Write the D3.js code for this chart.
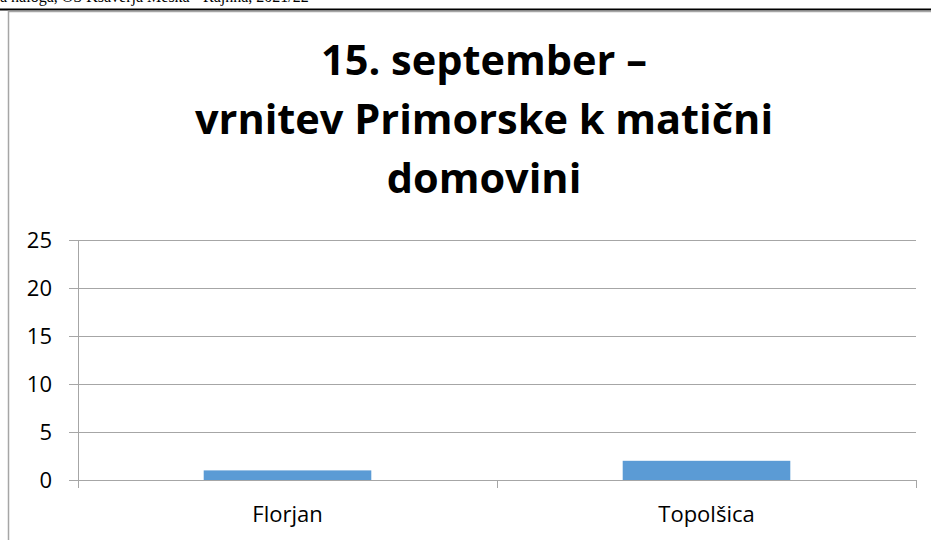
<!DOCTYPE html>
<html>
<head>
<meta charset="utf-8">
<script src="https://cdn.jsdelivr.net/npm/d3@7"></script>
<style>
  body { margin: 0; background: #fff; }
  svg { display: block; }
</style>
</head>
<body>
<div id="chart"></div>
<script>
// podatki grafa
var kategorije = ["Florjan", "Topolšica"];
var vrednosti = [1, 2];
var yTicks = [0, 5, 10, 15, 20, 25];
var naslov = ["15. september –", "vrnitev Primorske k matični", "domovini"];
var glava = "a naloga, OŠ Ksaverja Meška - Rajhna, 2021/22";

const W = 931, H = 540;
const margin = {top: 240, right: 15, bottom: 60, left: 78},
    width = W - margin.left - margin.right,
    height = H - margin.top - margin.bottom;

const svg = d3.select("#chart")
  .append("svg")
    .attr("width", W)
    .attr("height", H);

// odrezana glava dokumenta
svg.append("text")
  .attr("x", 0)
  .attr("y", 2)
  .style("font-family", "'Liberation Serif', serif")
  .style("font-size", "16px")
  .attr("fill", "#000")
  .text(glava);

svg.append("line")
  .attr("x1", 0).attr("x2", W)
  .attr("y1", 9.5).attr("y2", 9.5)
  .attr("stroke", "#000")
  .attr("stroke-width", 2);

// okvir grafa
svg.append("path")
  .attr("d", "M8.5," + H + "V11.5H" + W)
  .attr("fill", "none")
  .attr("stroke", "#a6a6a6")
  .attr("stroke-width", 1.5);

// naslov
svg.append("g")
  .selectAll("text")
  .data(naslov)
  .enter()
  .append("text")
    .attr("x", 484)
    .attr("y", function(d, i) { return 75 + i * 59; })
    .attr("text-anchor", "middle")
    .style("font-family", "'Open Sans', sans-serif")
    .style("font-weight", "bold")
    .style("font-size", "41.5px")
    .attr("fill", "#000")
    .text(function(d) { return d; });

const g = svg.append("g")
  .attr("transform", `translate(${margin.left},${margin.top})`);

var x = d3.scaleBand()
  .range([0, width])
  .domain(kategorije)
  .paddingInner(0.6)
  .paddingOuter(0.3);

var y = d3.scaleLinear()
  .domain([0, 25])
  .range([height, 0]);

// mreža
g.append("g")
  .selectAll("line")
  .data(yTicks)
  .enter()
  .append("line")
    .attr("x1", -9)
    .attr("x2", width)
    .attr("y1", function(d) { return Math.round(y(d)) + 0.5; })
    .attr("y2", function(d) { return Math.round(y(d)) + 0.5; })
    .attr("stroke", "#a6a6a6")
    .attr("stroke-width", 1);

// os y
g.append("line")
  .attr("x1", 0.5).attr("x2", 0.5)
  .attr("y1", 0).attr("y2", height + 8)
  .attr("stroke", "#a6a6a6");

g.append("g")
  .selectAll("text")
  .data(yTicks)
  .enter()
  .append("text")
    .attr("x", -26)
    .attr("y", function(d) { return y(d); })
    .attr("dy", "0.36em")
    .attr("text-anchor", "end")
    .style("font-family", "'Open Sans', sans-serif")
    .style("font-size", "22px")
    .attr("fill", "#000")
    .text(function(d) { return d; });

// kljukice na osi x
var meje = [0, x.step(), width];
g.append("g")
  .selectAll("line")
  .data(meje)
  .enter()
  .append("line")
    .attr("x1", function(d) { return Math.round(d) + 0.5; })
    .attr("x2", function(d) { return Math.round(d) + 0.5; })
    .attr("y1", height)
    .attr("y2", height + 8)
    .attr("stroke", "#a6a6a6");

// stolpci
g.selectAll("rect.bar")
  .data(vrednosti)
  .enter()
  .append("rect")
    .attr("class", "bar")
    .attr("x", function(d, i) { return x(kategorije[i]); })
    .attr("y", function(d) { return y(d); })
    .attr("width", x.bandwidth())
    .attr("height", function(d) { return height - y(d); })
    .attr("fill", "#5b9bd5");

// oznake kategorij
g.append("g")
  .selectAll("text")
  .data(kategorije)
  .enter()
  .append("text")
    .attr("x", function(d) { return x(d) + x.bandwidth() / 2; })
    .attr("y", height + 42)
    .attr("text-anchor", "middle")
    .style("font-family", "'Open Sans', sans-serif")
    .style("font-size", "22px")
    .attr("fill", "#000")
    .text(function(d) { return d; });
</script>
</body>
</html>
